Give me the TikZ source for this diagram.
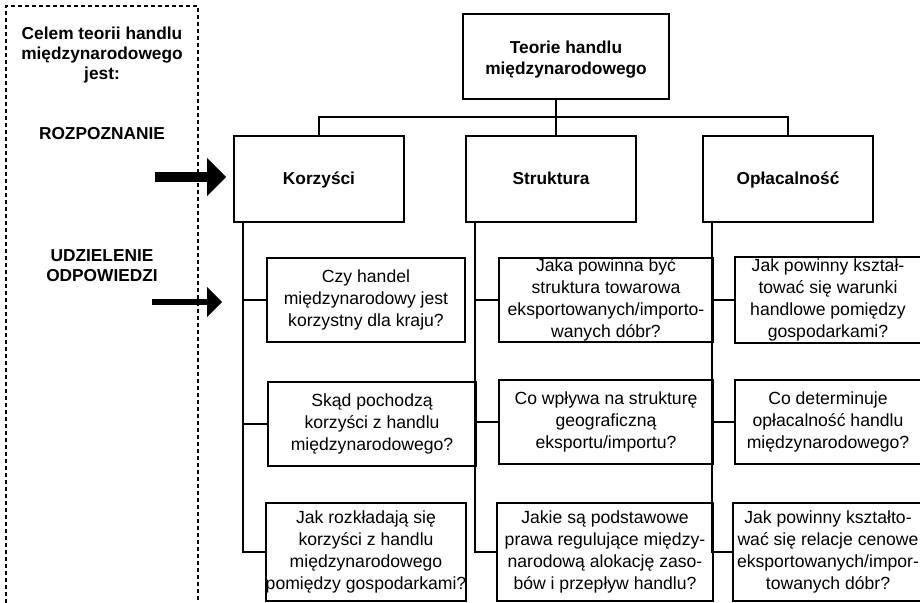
\documentclass[tikz,border=0pt]{standalone}
\usepackage{fontspec}
\setmainfont{Liberation Sans}
\usepackage{tikz}
\usetikzlibrary{arrows.meta,positioning,calc}

\tikzset{
    txt/.style={font=\fontsize{17.3}{21.5}\selectfont},
    box/.style={draw, line width=1.8pt, inner sep=0pt, align=center, txt},
    headbox/.style={box, font=\bfseries\fontsize{17.3}{21.5}\selectfont, minimum width=170pt, minimum height=86pt},
    levelbox/.style={headbox, text height=12.4pt, text depth=1pt},
    qbox/.style={box, font=\fontsize{17.6}{22}\selectfont, minimum height=84pt},
    link/.style={line width=1.8pt},
    frame/.style={line width=1.6pt, dash pattern=on 4pt off 3pt},
    sidetext/.style={align=center, font=\bfseries\fontsize{17.3}{20}\selectfont},
    bigarrow/.style={line width=10pt, -{Triangle[length=19pt,width=37pt]}},
    smallarrow/.style={line width=5.5pt, -{Triangle[length=15pt,width=29pt]}}
}

\begin{document}
\begin{tikzpicture}[x=1pt, y=-1pt]
    \useasboundingbox (0,0) rectangle (920,602);
    \clip (0,0) rectangle (920,602);

    % left column
    \draw[frame] (6,610) -- (6,6) -- (198,6) -- (198,610);
    \node[sidetext] (aim) at (102,55) {Celem teorii handlu\\międzynarodowego\\jest:};
    \node[sidetext] (recog) at (102,134) {ROZPOZNANIE};
    \node[sidetext] (answer) at (102,266) {UDZIELENIE\\ODPOWIEDZI};

    % tree
    \node[headbox, minimum width=206pt, minimum height=85pt] (theory) at (566,56.5) {\rule{0pt}{18.6pt}Teorie handlu\\międzynarodowego};
    \node[levelbox] (korz) at (319,179) {Korzyści};
    \node[levelbox] (str) at (551,179) {Struktura};
    \node[levelbox] (opl) at (788,179) {Opłacalność};

    \node[qbox, minimum width=198pt] (korz1) at (366,300) {Czy handel\\międzynarodowy jest\\korzystny dla kraju?};
    \node[qbox, minimum width=208pt] (korz2) at (372,424) {Skąd pochodzą\\korzyści z handlu\\międzynarodowego?};
    \node[qbox, minimum width=198pt, minimum height=98pt] (korz3) at (366,552) {Jak rozkładają się\\korzyści z handlu\\międzynarodowego\\pomiędzy gospodarkami?};

    \node[qbox, minimum width=214pt] (str1) at (606,300) {Jaka powinna być\\struktura towarowa\\eksportowanych/importo-\\wanych dóbr?};
    \node[qbox, minimum width=214pt] (str2) at (606,422) {Co wpływa na strukturę\\geograficzną\\eksportu/importu?};
    \node[qbox, minimum width=216pt, minimum height=98pt] (str3) at (605,552) {Jakie są podstawowe\\prawa regulujące między-\\narodową alokację zaso-\\bów i przepływ handlu?};

    \node[qbox, minimum width=186pt, minimum height=86pt] (opl1) at (828,300) {Jak powinny kształ-\\tować się warunki\\handlowe pomiędzy\\gospodarkami?};
    \node[qbox, minimum width=186pt] (opl2) at (828,422) {Co determinuje\\opłacalność handlu\\międzynarodowego?};
    \node[qbox, minimum width=190pt, minimum height=98pt] (opl3) at (828,552) {Jak powinny kształto-\\wać się relacje cenowe\\eksportowanych/impor-\\towanych dóbr?};

    % connectors
    \coordinate (hub) at (556,117);
    \draw[link] (theory.south -| hub) -- (str.north -| hub);
    \draw[link] (korz.north) |- (hub) -| (opl.north);

    \coordinate (korzspine) at ($(korz.south west)+(10,0)$);
    \coordinate (strspine) at ($(str.south west)+(10,0)$);
    \coordinate (oplspine) at ($(opl.south west)+(10,0)$);
    \foreach \col in {korz,str,opl} {
        \draw[link] (\col spine) |- (\col3.west);
        \draw[link] (\col spine |- \col1.west) -- (\col1.west);
        \draw[link] (\col spine |- \col2.west) -- (\col2.west);
    }

    % arrows
    \coordinate (arr1) at (155,177);
    \coordinate (arr2) at (152,302);
    \draw[bigarrow, shorten >=7pt] (arr1) -- (arr1 -| korz.west);
    \draw[smallarrow, shorten >=21pt] (arr2) -- (arr2 -| korzspine);
\end{tikzpicture}
\end{document}
